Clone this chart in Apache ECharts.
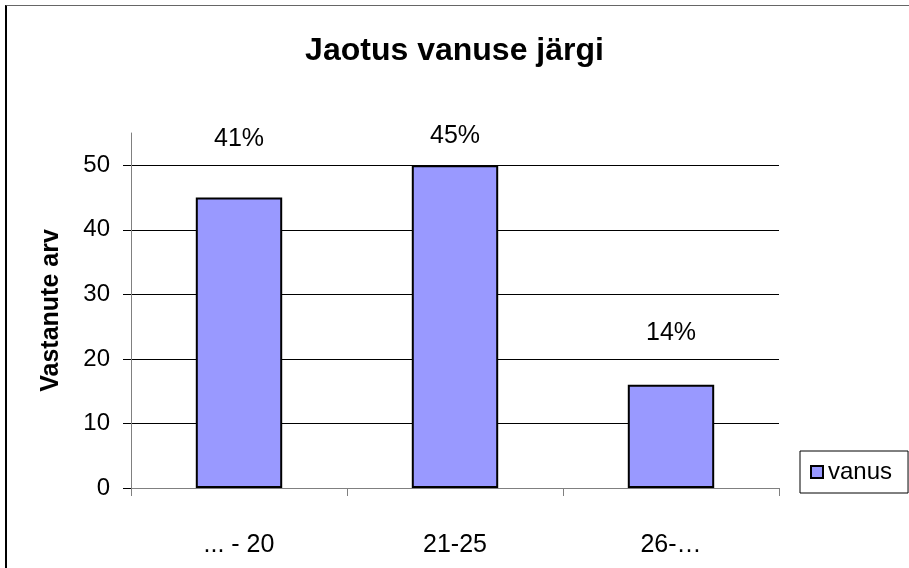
<!DOCTYPE html>
<html>
<head>
<meta charset="utf-8">
<script src="https://cdn.jsdelivr.net/npm/echarts@6/dist/echarts.min.js"></script>
<style>
html,body{margin:0;padding:0;background:#fff;}
#wrap{position:relative;width:909px;height:568px;overflow:hidden;}
#frame{position:absolute;left:5px;top:5px;width:1000px;height:1000px;border-left:2px solid #000;border-top:1px solid #666;box-sizing:border-box;pointer-events:none;}
#chart{position:absolute;left:0;top:0;width:909px;height:568px;}
</style>
</head>
<body>
<div id="wrap"><div id="chart"></div><div id="frame"></div></div>
<script>
const categories = ['... - 20', '21-25', '26-\u2026'];
const values = [45, 50, 16];
const pctLabels = ['41%', '45%', '14%'];
const yTicks = [0, 10, 20, 30, 40, 50];
const seriesName = 'vanus';
const labelGaps = [46, 17, 39];

const FONT = '"Liberation Sans", Arial, sans-serif';
const chart = echarts.init(document.getElementById('chart'), null, {renderer: 'canvas'});
chart.setOption({
  backgroundColor: '#fff',
  animation: false,
  title: {
    text: 'Jaotus vanuse järgi',
    left: 'center',
    top: 30,
    textStyle: {fontFamily: FONT, fontSize: 32, fontWeight: 'bold', color: '#000'}
  },
  legend: {
    data: [seriesName],
    left: 800,
    top: 451,
    padding: [9, 16, 9, 10],
    itemWidth: 12,
    itemHeight: 12,
    itemGap: 4,
    icon: 'rect',
    borderColor: '#000',
    borderWidth: 1,
    textStyle: {fontFamily: FONT, fontSize: 24, color: '#000'}
  },
  grid: {left: 131, right: 130, top: 133, bottom: 80, containLabel: false},
  xAxis: {
    type: 'category',
    data: categories,
    boundaryGap: true,
    axisLine: {show: true, lineStyle: {color: '#808080', width: 1}},
    axisTick: {show: true, length: 8, lineStyle: {color: '#808080'}},
    axisLabel: {margin: 45, fontFamily: FONT, fontSize: 25, color: '#000'},
    splitLine: {show: false}
  },
  yAxis: {
    type: 'value',
    min: 0,
    max: 55,
    interval: 10,
    name: 'Vastanute arv',
    nameLocation: 'middle',
    nameGap: 67,
    nameTextStyle: {fontFamily: FONT, fontSize: 25, fontWeight: 'bold', color: '#000'},
    axisLine: {show: true, lineStyle: {color: '#808080', width: 1}},
    axisTick: {show: true, length: 8, lineStyle: {color: '#000'}, customValues: yTicks},
    axisLabel: {margin: 21, fontFamily: FONT, fontSize: 24, color: '#000', customValues: yTicks},
    splitLine: {show: true, lineStyle: {color: '#000', width: 1}}
  },
  series: [{
    name: seriesName,
    type: 'bar',
    barWidth: '40%',
    data: values.map((v, i) => ({
      value: v,
      label: {distance: labelGaps[i]}
    })),
    itemStyle: {color: '#9999FF', borderColor: '#000', borderWidth: 2},
    label: {
      show: true,
      position: 'top',
      fontFamily: FONT,
      fontSize: 25,
      color: '#000',
      formatter: p => pctLabels[p.dataIndex]
    }
  }]
});
</script>
</body>
</html>
